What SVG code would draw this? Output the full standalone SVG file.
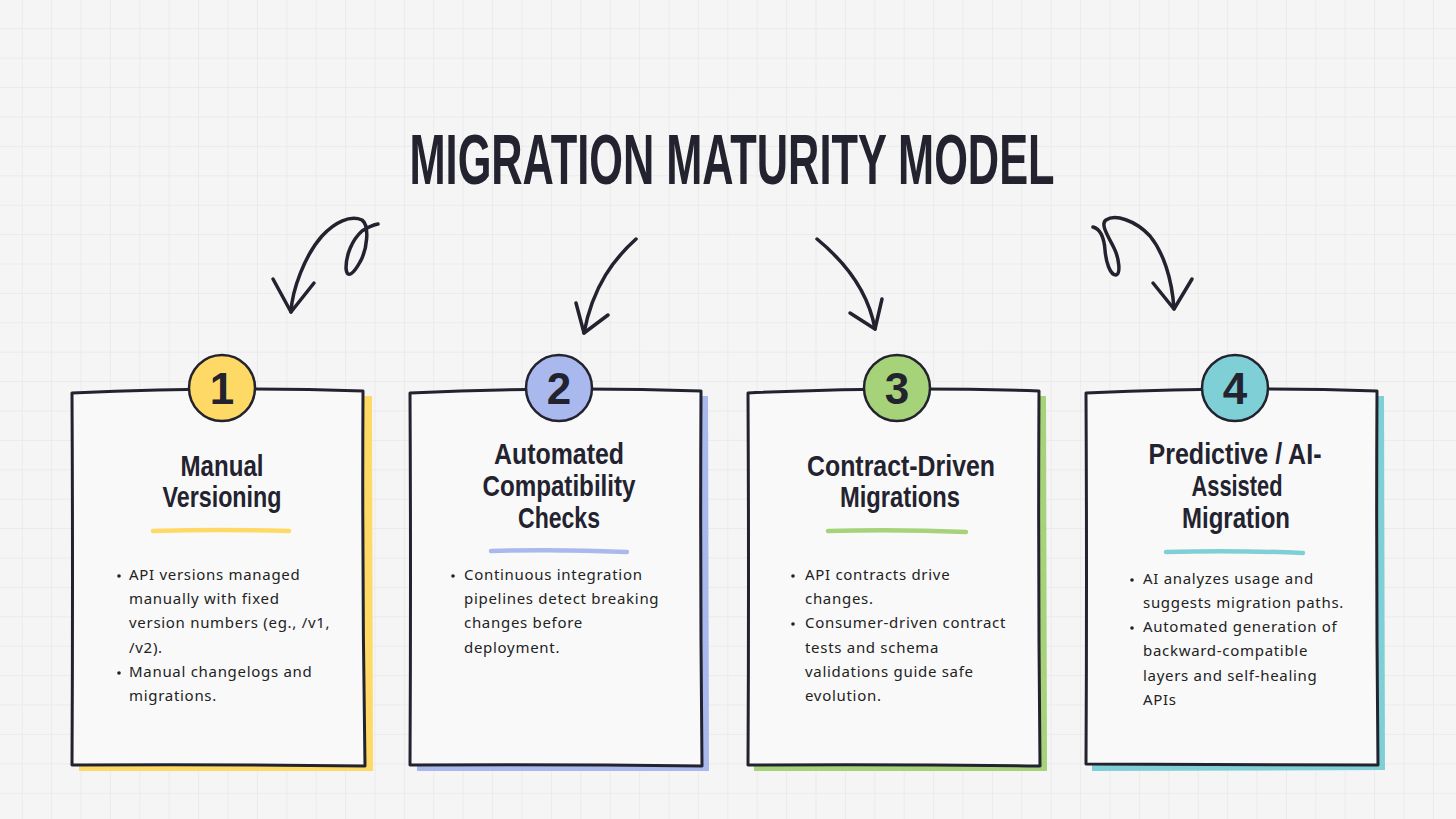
<svg xmlns="http://www.w3.org/2000/svg" width="1456" height="819" viewBox="0 0 1456 819">
<defs>
<pattern id="grid" x="21.7" y="28.3" width="29.4" height="29.4" patternUnits="userSpaceOnUse">
<path d="M0 0V29.4M0 0H29.4" fill="none" stroke="#e8e8e8" stroke-width="1.4"/>
</pattern>
<style>
.card{fill:#f9f9f9;stroke:#23222f;stroke-width:3;stroke-linejoin:round}
.circ{stroke:#23222f;stroke-width:2.5}
.num{font-family:"Liberation Sans Narrow","Liberation Sans",sans-serif;font-weight:bold;font-size:44px;fill:#23222f;text-anchor:middle}
.head{font-family:"Liberation Sans Narrow","Liberation Sans",sans-serif;font-weight:bold;font-size:30px;fill:#23222f;text-anchor:middle}
.title{font-family:"Liberation Sans Narrow","Liberation Sans",sans-serif;font-weight:bold;font-size:70px;fill:#23222f;text-anchor:middle}
.body{font-family:"Noto Sans","Liberation Sans",sans-serif;font-size:15px;fill:#222;letter-spacing:0.7px}
.ul{fill:none;stroke-width:4.5;stroke-linecap:round}
.arr{fill:none;stroke:#23222f;stroke-width:3.5;stroke-linecap:round;stroke-linejoin:round}
</style>
</defs>
<rect width="1456" height="819" fill="#f5f5f5"/>
<rect width="1456" height="819" fill="url(#grid)"/>

<text class="title" x="732" y="184" textLength="645" lengthAdjust="spacingAndGlyphs">MIGRATION MATURITY MODEL</text>

<g id="connectors">
<path class="arr" d="M291,312 C292,290 305,255 322,236 C335,222 350,215 362,220 C370,226 367,250 360,262 C354,273 347,280 346,268 C346,255 352,240 362,231 C368,227 373,225 378,224"/>
<path class="arr" d="M273,279 L291,312 L314,283"/>
<path class="arr" d="M636,239 C615,258 593,285 584,333"/>
<path class="arr" d="M576,303 L584,333 L608,315"/>
<path class="arr" d="M817,239 C845,262 868,290 875,329"/>
<path class="arr" d="M850,313 L875,329 L882,299"/>
<path class="arr" d="M1093,227 C1100,229 1104,236 1105,250 C1106,262 1110,275 1116,275 C1121,274 1119,258 1114,248 C1108,236 1100,224 1106,220 C1115,214 1135,220 1150,236 C1163,252 1172,278 1174,309"/>
<path class="arr" d="M1153,283 L1174,309 L1192,279"/>
</g>

<g id="card1">
<path d="M80,398 L372,396 L373,771 L79,771 Z" fill="#ffd966"/>
<path class="card" d="M72,393 Q220,386 363,391 Q362,580 365,766 Q220,764 72,765 Q73,580 72,393 Z"/>
<circle class="circ" cx="222" cy="388" r="33" fill="#ffd966"/>
<text class="num" x="222" y="404">1</text>
<text class="head" x="222" y="476" textLength="83" lengthAdjust="spacingAndGlyphs">Manual</text>
<text class="head" x="222" y="507" textLength="119" lengthAdjust="spacingAndGlyphs">Versioning</text>
<path class="ul" stroke="#ffd966" d="M153,531 Q220,529 289,531"/>
<g class="body">
<circle cx="119" cy="576" r="1.8" fill="#222"/>
<text x="129" y="580">API versions managed</text>
<text x="129" y="604">manually with fixed</text>
<text x="129" y="628">version numbers (eg., /v1,</text>
<text x="129" y="653">/v2).</text>
<circle cx="119" cy="673" r="1.8" fill="#222"/>
<text x="129" y="677">Manual changelogs and</text>
<text x="129" y="701">migrations.</text>
</g>
</g>

<g id="card2">
<path d="M418,398 L708,396 L709,771 L417,771 Z" fill="#a9b9ee"/>
<path class="card" d="M410,393 Q560,386 701,391 Q700,580 702,766 Q560,764 410,765 Q411,580 410,393 Z"/>
<circle class="circ" cx="559" cy="388" r="33" fill="#a9b9ee"/>
<text class="num" x="559" y="404">2</text>
<text class="head" x="559" y="464" textLength="130" lengthAdjust="spacingAndGlyphs">Automated</text>
<text class="head" x="559" y="496" textLength="153" lengthAdjust="spacingAndGlyphs">Compatibility</text>
<text class="head" x="559" y="528" textLength="82" lengthAdjust="spacingAndGlyphs">Checks</text>
<path class="ul" stroke="#a9b9ee" d="M491,551 Q560,549 627,552"/>
<g class="body">
<circle cx="453" cy="576" r="1.8" fill="#222"/>
<text x="464" y="580">Continuous integration</text>
<text x="464" y="604">pipelines detect breaking</text>
<text x="464" y="628">changes before</text>
<text x="464" y="653">deployment.</text>
</g>
</g>

<g id="card3">
<path d="M755,398 L1046,396 L1047,771 L754,771 Z" fill="#a6d27a"/>
<path class="card" d="M748,393 Q898,386 1039,391 Q1038,580 1040,766 Q898,764 748,765 Q749,580 748,393 Z"/>
<circle class="circ" cx="897" cy="388" r="33" fill="#a6d27a"/>
<text class="num" x="897" y="404">3</text>
<text class="head" x="901" y="476" textLength="188" lengthAdjust="spacingAndGlyphs">Contract-Driven</text>
<text class="head" x="900" y="507" textLength="120" lengthAdjust="spacingAndGlyphs">Migrations</text>
<path class="ul" stroke="#a6d27a" d="M828,531 Q898,529 966,532"/>
<g class="body">
<circle cx="793" cy="576" r="1.8" fill="#222"/>
<text x="805" y="580">API contracts drive</text>
<text x="805" y="604">changes.</text>
<circle cx="793" cy="624" r="1.8" fill="#222"/>
<text x="805" y="628">Consumer-driven contract</text>
<text x="805" y="653">tests and schema</text>
<text x="805" y="677">validations guide safe</text>
<text x="805" y="701">evolution.</text>
</g>
</g>

<g id="card4">
<path d="M1093,398 L1384,396 L1385,770 L1092,771 Z" fill="#7fd0d6"/>
<path class="card" d="M1086,393 Q1235,386 1377,391 Q1376,580 1378,765 Q1235,764 1086,764 Q1087,580 1086,393 Z"/>
<circle class="circ" cx="1235" cy="388" r="33" fill="#7fd0d6"/>
<text class="num" x="1235" y="404">4</text>
<text class="head" x="1235" y="464" textLength="173" lengthAdjust="spacingAndGlyphs">Predictive / AI-</text>
<text class="head" x="1237" y="496" textLength="91" lengthAdjust="spacingAndGlyphs">Assisted</text>
<text class="head" x="1236" y="528" textLength="108" lengthAdjust="spacingAndGlyphs">Migration</text>
<path class="ul" stroke="#7fd0d6" d="M1166,552 Q1235,550 1303,553"/>
<g class="body">
<circle cx="1132" cy="580" r="1.8" fill="#222"/>
<text x="1143" y="584">AI analyzes usage and</text>
<text x="1143" y="608">suggests migration paths.</text>
<circle cx="1132" cy="628" r="1.8" fill="#222"/>
<text x="1143" y="632">Automated generation of</text>
<text x="1143" y="656">backward-compatible</text>
<text x="1143" y="681">layers and self-healing</text>
<text x="1143" y="705">APIs</text>
</g>
</g>
</svg>
